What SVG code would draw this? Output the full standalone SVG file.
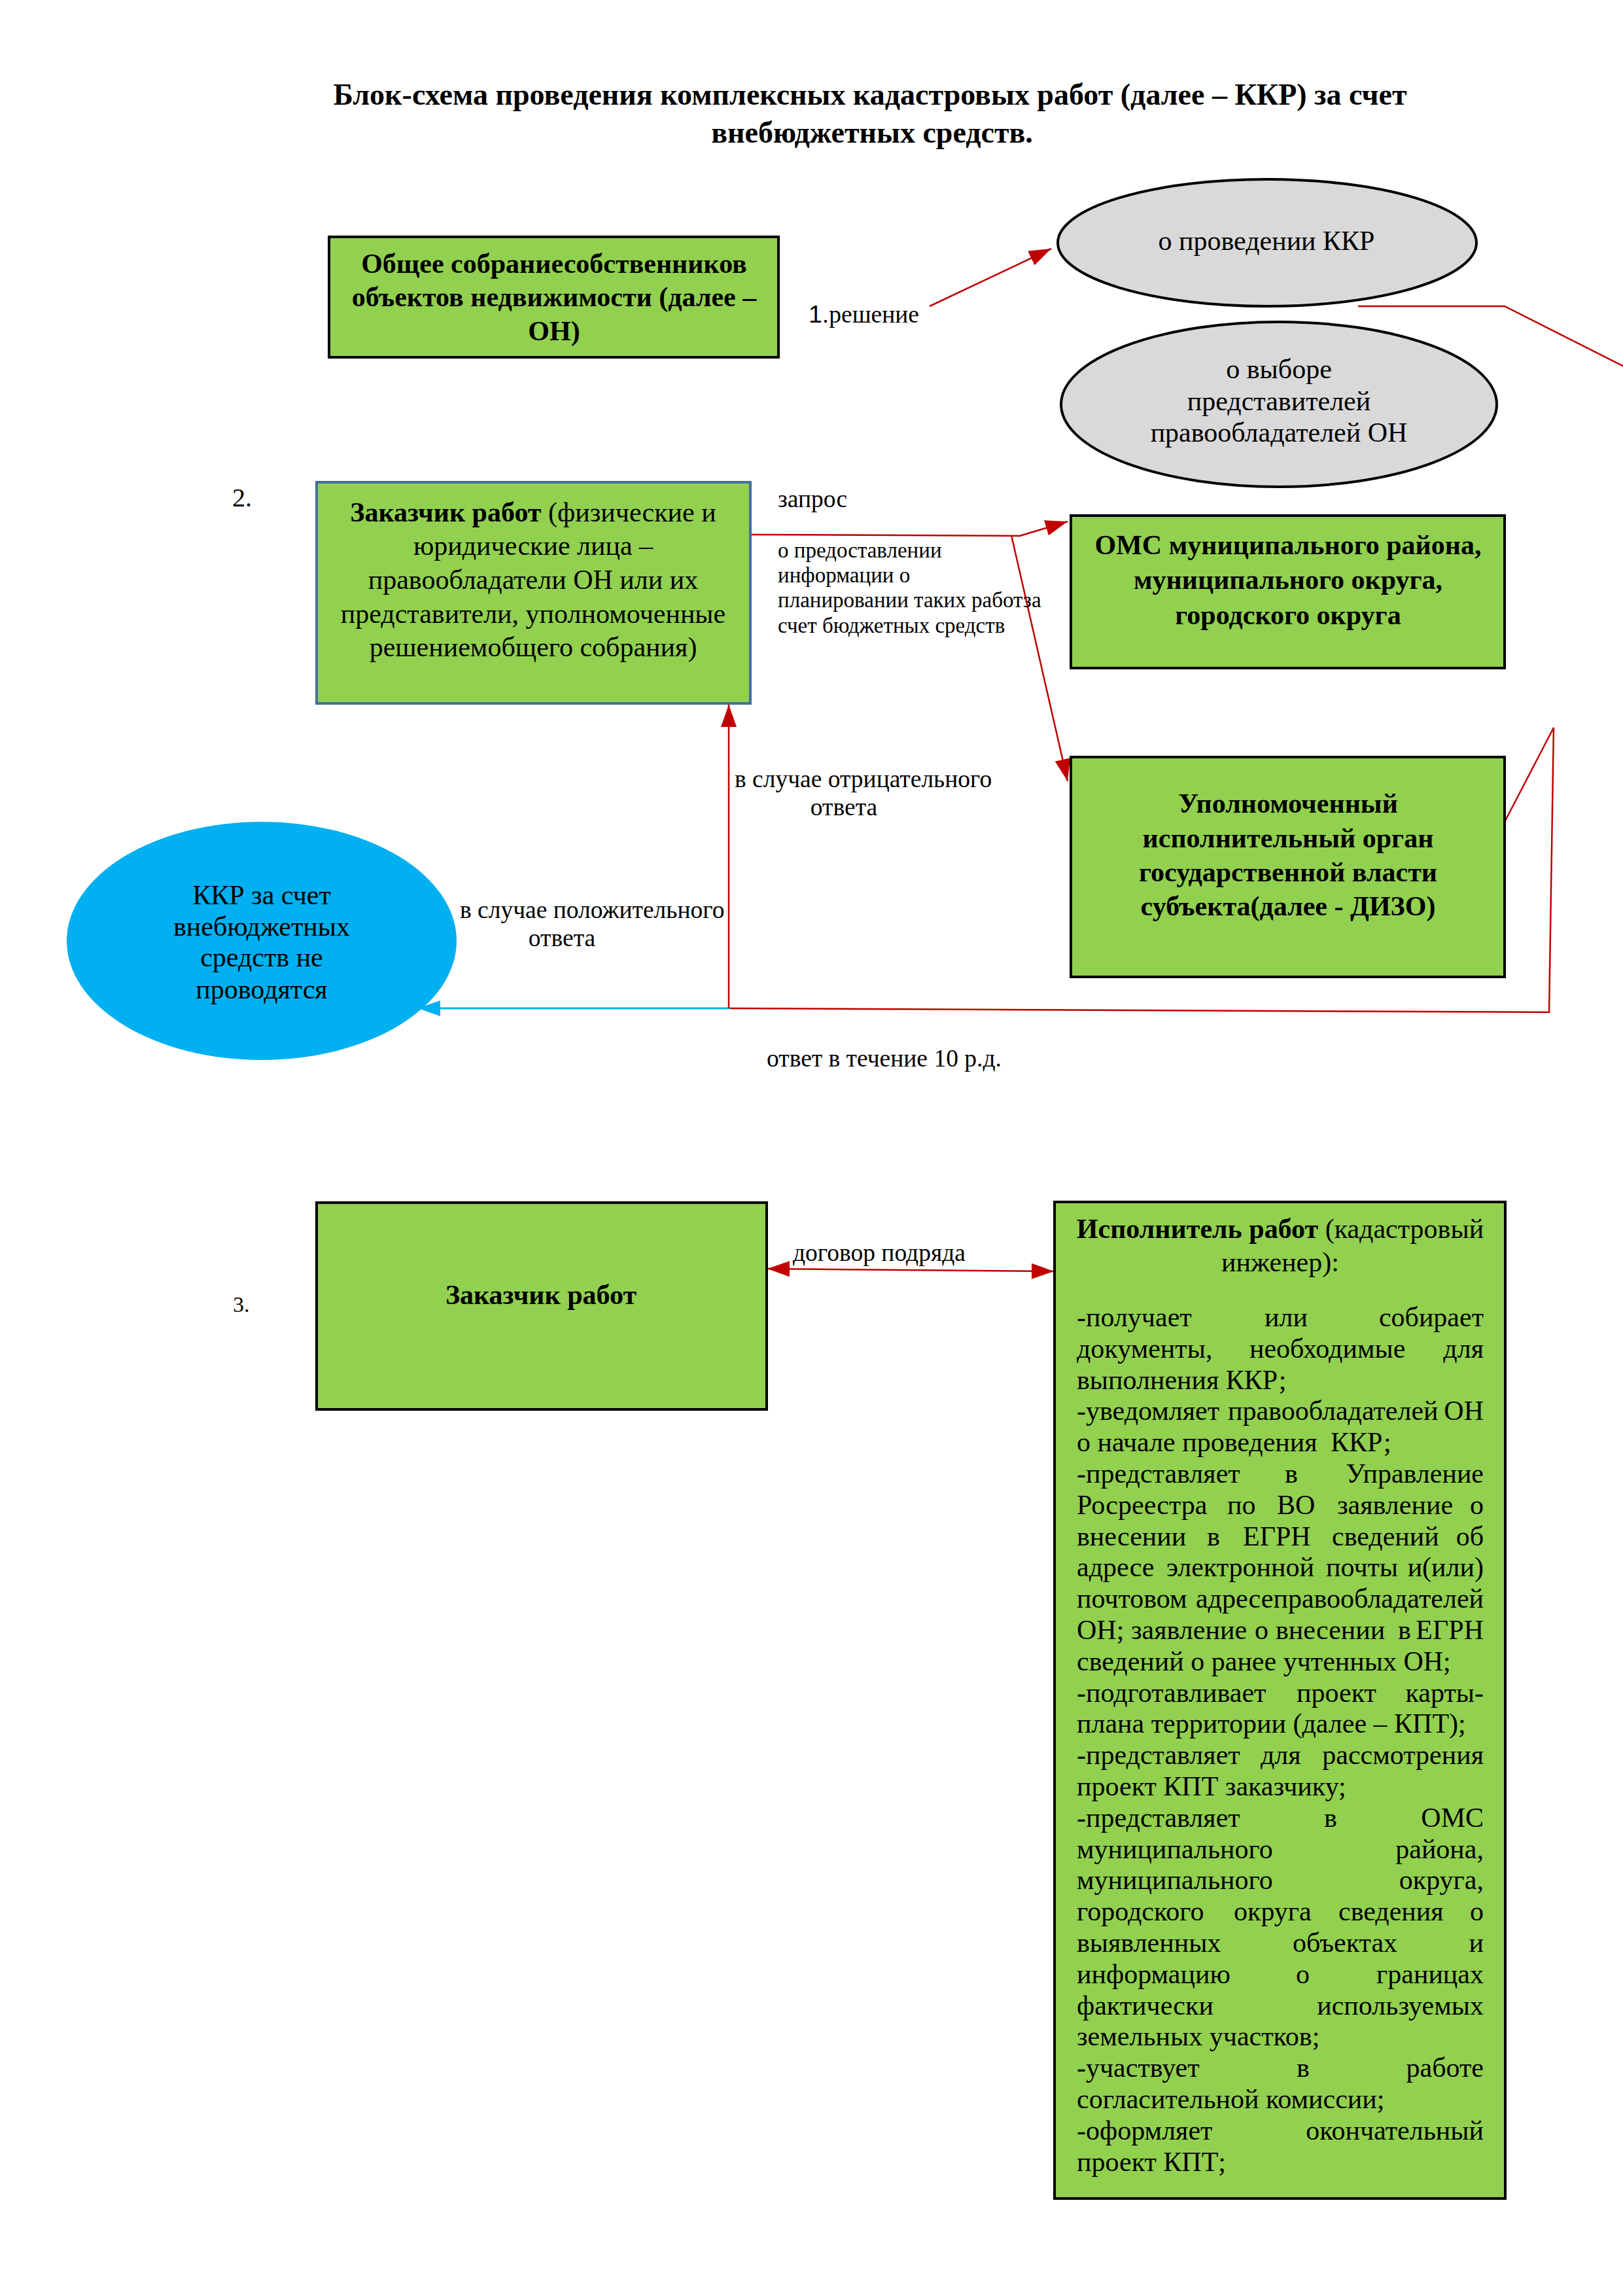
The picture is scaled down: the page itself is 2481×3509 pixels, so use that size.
<svg xmlns="http://www.w3.org/2000/svg" width="2481" height="3509" viewBox="0 0 2481 3509">
<style>
text{font-family:"Liberation Serif","Times New Roman",serif;fill:#000}
.t{font-size:46px;font-weight:bold;text-anchor:middle}
.bx{font-size:42px;text-anchor:middle}
.b{font-weight:bold}
.lb{font-size:37.5px}
.sm{font-size:33px}
.ex{font-size:42px}
.e{text-anchor:end}
.green{fill:#92D050}
.blk{stroke:#000;stroke-width:4}
.red{fill:none;stroke:#C00000;stroke-width:2.5}
.cyan{fill:none;stroke:#00B0F0;stroke-width:3}
</style>
<defs>
<marker id="ar" viewBox="0 0 10 10" refX="10" refY="5" markerWidth="34" markerHeight="24" markerUnits="userSpaceOnUse" orient="auto-start-reverse" preserveAspectRatio="none"><path d="M0,0 L10,5 L0,10 z" fill="#C00000"/></marker>
<marker id="ac" viewBox="0 0 10 10" refX="10" refY="5" markerWidth="34" markerHeight="24" markerUnits="userSpaceOnUse" orient="auto-start-reverse" preserveAspectRatio="none"><path d="M0,0 L10,5 L0,10 z" fill="#00B0F0"/></marker>
</defs>
<rect width="2481" height="3509" fill="#fff"/>
<g id="title">
<text class="t" x="1330" y="160">Блок-схема проведения комплексных кадастровых работ (далее – ККР) за счет</text>
<text class="t" x="1333" y="218">внебюджетных средств.</text>
</g>
<g id="connectors">
<path class="red" d="M1421,468 L1607,380" marker-end="url(#ar)"/>
<path class="red" d="M2076,468 L2300,468 L2492,565"/>
<path class="red" stroke-width="3" d="M1148,817 L1559,819 L1632,797" marker-end="url(#ar)"/>
<path class="red" d="M1546,818 L1632,1194" marker-end="url(#ar)"/>
<path class="red" d="M2298,1260 L2375,1112 L2368,1547 L1116,1541"/>
<path class="cyan" d="M1116,1541 L639,1541" marker-end="url(#ac)"/>
<path class="red" d="M1114,1541 L1114,1077" marker-end="url(#ar)"/>
<path class="red" stroke-width="3" d="M1173,1939 L1611,1943" marker-start="url(#ar)" marker-end="url(#ar)"/>
</g>
<g id="labels">
<text class="lb" x="1236" y="493"><tspan font-family="Liberation Sans, Arial, sans-serif">1.</tspan>решение</text>
<text x="355" y="774" font-size="40" font-family="Liberation Sans, Arial, sans-serif">2.</text>
<text class="lb" x="1189" y="775">запрос</text>
<text class="sm" x="1189" y="852">о предоставлении</text>
<text class="sm" x="1189" y="890">информации о</text>
<text class="sm" x="1189" y="928">планировании таких работза</text>
<text class="sm" x="1189" y="967">счет бюджетных средств</text>
<text class="lb" x="1123" y="1203">в случае отрицательного</text>
<text class="lb" x="1290" y="1246" text-anchor="middle">ответа</text>
<text class="lb" x="703" y="1403">в случае положительного</text>
<text class="lb" x="859" y="1446" text-anchor="middle">ответа</text>
<text class="lb" x="1172" y="1630">ответ в течение 10 р.д.</text>
<text x="356" y="2005" font-size="34">3.</text>
<text class="lb" x="1212" y="1927">договор подряда</text>
</g>
<g id="node-sobranie">
<rect class="green blk" x="503" y="362" width="687" height="184"/>
<text class="bx b" x="847" y="417">Общее собраниесобственников</text>
<text class="bx b" x="847" y="468">объектов недвижимости (далее –</text>
<text class="bx b" x="847" y="520">ОН)</text>
</g>
<g id="node-provedenie">
<ellipse cx="1937" cy="371" rx="320" ry="97" fill="#D9D9D9" stroke="#000" stroke-width="4"/>
<text class="bx" x="1936" y="382">о проведении ККР</text>
</g>
<g id="node-vybor">
<ellipse cx="1955" cy="618" rx="333" ry="126" fill="#D9D9D9" stroke="#000" stroke-width="4"/>
<text class="bx" x="1955" y="578">о выборе</text>
<text class="bx" x="1955" y="627">представителей</text>
<text class="bx" x="1955" y="675">правообладателей ОН</text>
</g>
<g id="node-zakazchik">
<rect class="green" x="484" y="737" width="663" height="338" stroke="#41719C" stroke-width="4"/>
<text class="bx" x="815" y="797"><tspan class="b">Заказчик работ</tspan> (физические и</text>
<text class="bx" x="815" y="848">юридические лица –</text>
<text class="bx" x="815" y="900">правообладатели ОН или их</text>
<text class="bx" x="815" y="952">представители, уполномоченные</text>
<text class="bx" x="815" y="1003">решениемобщего собрания)</text>
</g>
<g id="node-oms">
<rect class="green blk" x="1637" y="788" width="663" height="233"/>
<text class="bx b" x="1969" y="847">ОМС муниципального района,</text>
<text class="bx b" x="1969" y="900">муниципального округа,</text>
<text class="bx b" x="1969" y="954">городского округа</text>
</g>
<g id="node-dizo">
<rect class="green blk" x="1637" y="1157" width="663" height="336"/>
<text class="bx b" x="1969" y="1242">Уполномоченный</text>
<text class="bx b" x="1969" y="1295">исполнительный орган</text>
<text class="bx b" x="1969" y="1347">государственной власти</text>
<text class="bx b" x="1969" y="1399">субъекта(далее - ДИЗО)</text>
</g>
<g id="node-kkr">
<ellipse cx="400" cy="1438" rx="298" ry="182" fill="#00B0F0"/>
<text class="bx" x="400" y="1382">ККР за счет</text>
<text class="bx" x="400" y="1430">внебюджетных</text>
<text class="bx" x="400" y="1477">средств не</text>
<text class="bx" x="400" y="1526">проводятся</text>
</g>
<g id="node-zakazchik3">
<rect class="green blk" x="484" y="1838" width="688" height="316"/>
<text class="bx b" x="827" y="1993">Заказчик работ</text>
</g>
<g id="node-ispolnitel">
<rect class="green blk" x="1612" y="1837" width="689" height="1523"/>
<text class="bx" x="1957" y="1892"><tspan class="b">Исполнитель работ</tspan> (кадастровый</text>
<text class="bx" x="1957" y="1943">инженер):</text>
<text class="ex" y="2027"><tspan x="1646">-получает</tspan><tspan x="1933">или</tspan><tspan class="e" x="2268">собирает</tspan></text>
<text class="ex" y="2075"><tspan x="1646">документы,</tspan><tspan x="1910">необходимые</tspan><tspan class="e" x="2268">для</tspan></text>
<text class="ex" x="1646" y="2123">выполнения ККР;</text>
<text class="ex" y="2170"><tspan x="1646">-уведомляет</tspan><tspan x="1877">правообладателей</tspan><tspan class="e" x="2268">ОН</tspan></text>
<text class="ex" y="2218"><tspan x="1646">о начале проведения</tspan><tspan x="2034">ККР;</tspan></text>
<text class="ex" y="2266"><tspan x="1646">-представляет</tspan><tspan x="1964">в</tspan><tspan class="e" x="2268">Управление</tspan></text>
<text class="ex" y="2314"><tspan x="1646">Росреестра</tspan><tspan x="1876">по</tspan><tspan x="1952">ВО</tspan><tspan x="2044">заявление</tspan><tspan class="e" x="2268">о</tspan></text>
<text class="ex" y="2362"><tspan x="1646">внесении</tspan><tspan x="1845">в</tspan><tspan x="1900">ЕГРН</tspan><tspan x="2036">сведений</tspan><tspan class="e" x="2268">об</tspan></text>
<text class="ex" y="2409"><tspan x="1646">адресе</tspan><tspan x="1783">электронной</tspan><tspan x="2027">почты</tspan><tspan class="e" x="2268">и(или)</tspan></text>
<text class="ex" y="2457"><tspan x="1646">почтовом</tspan><tspan class="e" x="2268">адресеправообладателей</tspan></text>
<text class="ex" y="2505"><tspan x="1646">ОН;</tspan><tspan x="1729">заявление</tspan><tspan x="1918">о</tspan><tspan x="1950">внесении</tspan><tspan x="2137">в</tspan><tspan class="e" x="2268">ЕГРН</tspan></text>
<text class="ex" x="1646" y="2553">сведений о ранее учтенных ОН;</text>
<text class="ex" y="2601"><tspan x="1646">-подготавливает</tspan><tspan x="1982">проект</tspan><tspan class="e" x="2268">карты-</tspan></text>
<text class="ex" x="1646" y="2648">плана территории (далее – КПТ);</text>
<text class="ex" y="2696"><tspan x="1646">-представляет</tspan><tspan x="1927">для</tspan><tspan class="e" x="2268">рассмотрения</tspan></text>
<text class="ex" x="1646" y="2744">проект КПТ заказчику;</text>
<text class="ex" y="2792"><tspan x="1646">-представляет</tspan><tspan x="2024">в</tspan><tspan class="e" x="2268">ОМС</tspan></text>
<text class="ex" y="2840"><tspan x="1646">муниципального</tspan><tspan class="e" x="2268">района,</tspan></text>
<text class="ex" y="2887"><tspan x="1646">муниципального</tspan><tspan class="e" x="2268">округа,</tspan></text>
<text class="ex" y="2935"><tspan x="1646">городского</tspan><tspan x="1886">округа</tspan><tspan x="2046">сведения</tspan><tspan class="e" x="2268">о</tspan></text>
<text class="ex" y="2983"><tspan x="1646">выявленных</tspan><tspan x="1976">объектах</tspan><tspan class="e" x="2268">и</tspan></text>
<text class="ex" y="3031"><tspan x="1646">информацию</tspan><tspan x="1981">о</tspan><tspan class="e" x="2268">границах</tspan></text>
<text class="ex" y="3079"><tspan x="1646">фактически</tspan><tspan class="e" x="2268">используемых</tspan></text>
<text class="ex" x="1646" y="3126">земельных участков;</text>
<text class="ex" y="3174"><tspan x="1646">-участвует</tspan><tspan x="1982">в</tspan><tspan class="e" x="2268">работе</tspan></text>
<text class="ex" x="1646" y="3222">согласительной комиссии;</text>
<text class="ex" y="3270"><tspan x="1646">-оформляет</tspan><tspan class="e" x="2268">окончательный</tspan></text>
<text class="ex" x="1646" y="3318">проект КПТ;</text>
</g>
</svg>
